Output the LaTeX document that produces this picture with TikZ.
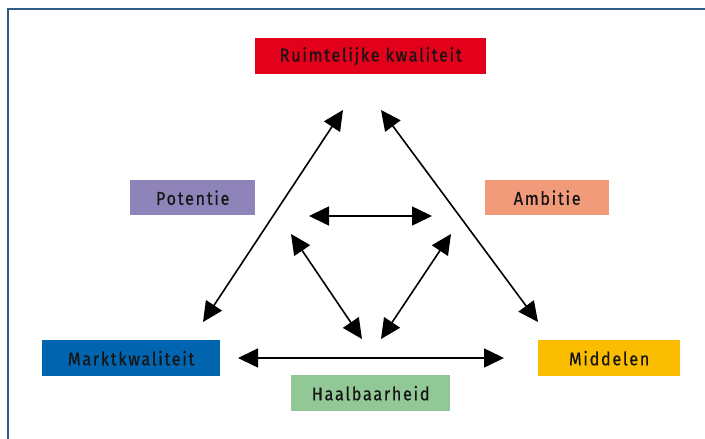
\documentclass[tikz,border=0pt]{standalone}
\usepackage{fontspec}
\setmainfont{Fira Sans}[LetterSpace=9,FakeStretch=0.88,FakeBold=0.6]
\usetikzlibrary{arrows.meta}
\definecolor{framec}{HTML}{2F5B85}
\definecolor{cred}{HTML}{E2001A}
\definecolor{cpurple}{HTML}{8F84BA}
\definecolor{csalmon}{HTML}{F29B7B}
\definecolor{cblue}{HTML}{0064AE}
\definecolor{cyellow}{HTML}{FBBD00}
\definecolor{cgreen}{HTML}{92C896}
\definecolor{ctext}{HTML}{151515}
\tikzset{
  lbl/.style={fill=#1, inner sep=0pt, text=ctext, font=\fontsize{18.5}{18.5}\selectfont, anchor=north west},
  dbl/.style={{Triangle[length=20pt,width=19pt]}-{Triangle[length=20pt,width=19pt]}, line width=1.6pt, black}
}
\begin{document}
\begin{tikzpicture}[x=1pt,y=-1pt]
\useasboundingbox (0,0) rectangle (705,439);
\draw[framec, line width=2pt] (7.5,439) -- (7.5,9) -- (705,9);
% boxes
\node[lbl=cred, minimum width=231pt, minimum height=36pt] (rk) at (255,38) {Ruimtelijke kwaliteit};
\node[lbl=cpurple, minimum width=125pt, minimum height=35pt] (pot) at (130,180) {Potentie};
\node[lbl=csalmon, minimum width=124pt, minimum height=35pt] (amb) at (485,180) {Ambitie};
\node[lbl=cblue, minimum width=178pt, minimum height=36pt] (mk) at (42,340) {Marktkwaliteit};
\node[lbl=cyellow, minimum width=142pt, minimum height=36pt] (mid) at (538,340) {Middelen};
\node[lbl=cgreen, minimum width=159pt, minimum height=36pt] (hb) at (291,375) {Haalbaarheid};
% arrow end points
\coordinate (l1) at (343,110);
\coordinate (l2) at (203,322);
\coordinate (r1) at (381,110);
\coordinate (r2) at (538,322);
\coordinate (h1) at (309,216);
\coordinate (h2) at (432,216);
\coordinate (dl1) at (291,234);
\coordinate (dl2) at (362,339);
\coordinate (dr1) at (451,234);
\coordinate (dr2) at (381,339);
\coordinate (b1) at (238,358);
\coordinate (b2) at (504,358);
\draw[dbl] (l1) -- (l2);
\draw[dbl] (r1) -- (r2);
\draw[dbl] (h1) -- (h2);
\draw[dbl] (dl1) -- (dl2);
\draw[dbl] (dr1) -- (dr2);
\draw[dbl] (b1) -- (b2);
\end{tikzpicture}
\end{document}
